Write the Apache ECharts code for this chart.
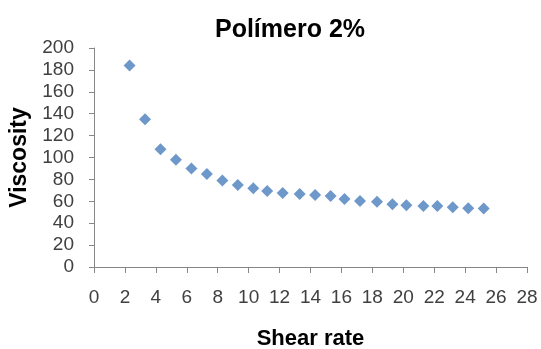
<!DOCTYPE html>
<html><head><meta charset="utf-8">
<script src="https://cdn.jsdelivr.net/npm/echarts@6/dist/echarts.min.js"></script>
<style>html,body{margin:0;padding:0;background:#fff}#c{width:541px;height:349px}</style>
</head><body><div id="c"></div>
<script>
const titleText = 'Polímero 2%';
const xName = 'Shear rate';
const yName = 'Viscosity';
const shearRate = [2.3,3.3,4.3,5.3,6.3,7.3,8.3,9.3,10.3,11.2,12.2,13.3,14.3,15.3,16.2,17.2,18.3,19.3,20.2,21.3,22.2,23.2,24.2,25.2];
const viscosity = [184,135,107.5,98,90,85,79,75,72,69.5,67.5,66.7,65.7,64.8,62,60.2,59.6,57.4,56.5,55.6,55.6,54.6,53.7,53.4];

const chart = echarts.init(document.getElementById('c'));
const axisColor = '#868686';
const labelStyle = {color:'#404040', fontFamily:'Liberation Sans', fontSize:19};
chart.setOption({
  animation:false,
  title:{text:titleText, left:285, textAlign:'center', top:13,
    textStyle:{fontFamily:'Liberation Sans', fontWeight:'bold', fontSize:25, color:'#000'}},
  grid:{left:94, right:14, top:48, bottom:82, outerBoundsMode:'none', containLabel:false},
  xAxis:{type:'value', min:0, max:28, interval:2,
    name:xName, nameLocation:'middle', nameGap:61,
    nameTextStyle:{fontFamily:'Liberation Sans', fontWeight:'bold', fontSize:22, color:'#000'},
    axisLine:{show:true, lineStyle:{color:axisColor}},
    axisTick:{show:true, inside:false, length:6, lineStyle:{color:axisColor}},
    axisLabel:Object.assign({margin:21}, labelStyle),
    splitLine:{show:false}},
  yAxis:{type:'value', min:0, max:200, interval:20,
    name:yName, nameLocation:'middle', nameGap:60, nameRotate:90,
    nameTextStyle:{fontFamily:'Liberation Sans', fontWeight:'bold', fontSize:23, color:'#000'},
    axisLine:{show:true, lineStyle:{color:axisColor}},
    axisTick:{show:true, inside:false, length:5, lineStyle:{color:axisColor}},
    axisLabel:Object.assign({margin:20}, labelStyle),
    splitLine:{show:false}},
  series:[{type:'scatter', symbol:'diamond', symbolSize:12,
    itemStyle:{color:'#4A7EBB'},
    data:shearRate.map((x,i)=>[x, viscosity[i]])}]
});
</script></body></html>
